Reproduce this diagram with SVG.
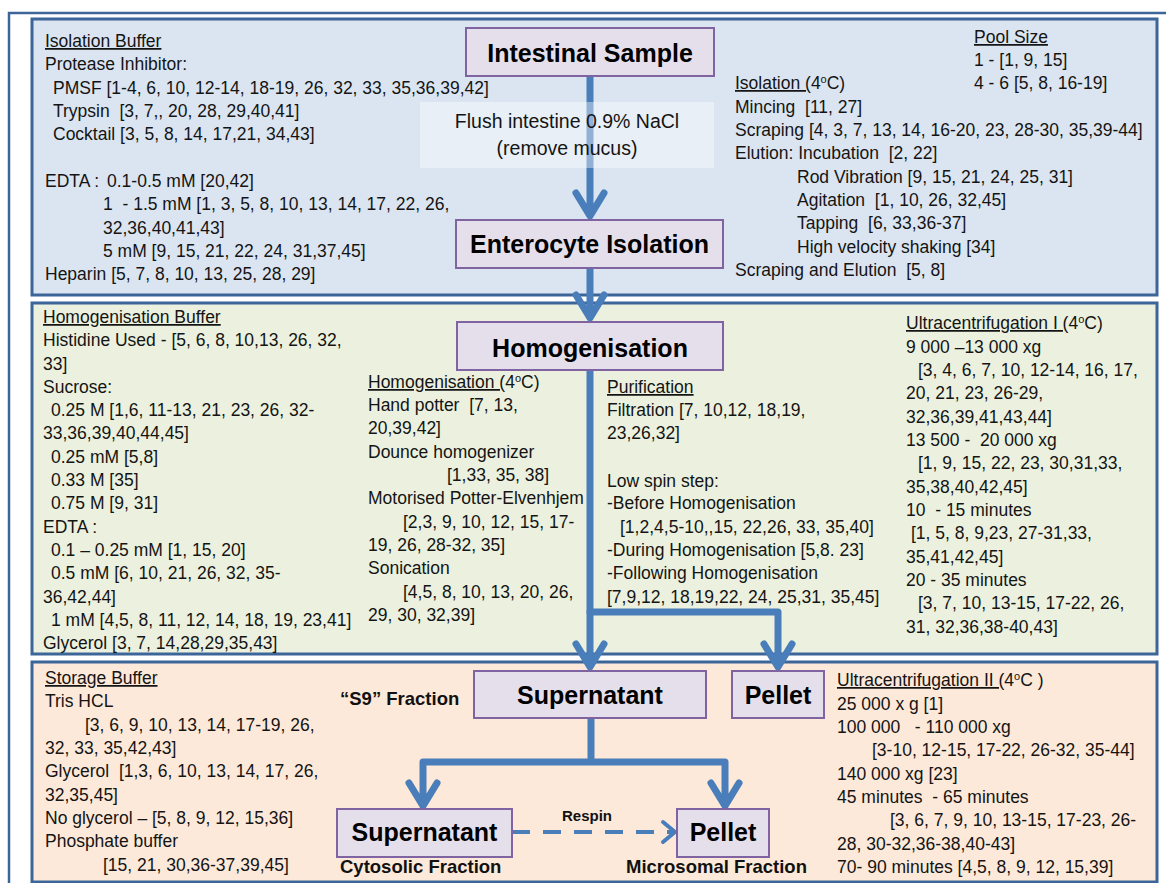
<svg xmlns="http://www.w3.org/2000/svg" width="1166" height="883" viewBox="0 0 1166 883">
<style>
.t{font-family:"Liberation Sans",Arial,sans-serif;font-size:17.5px;fill:#141414;white-space:pre}
.u{text-decoration:underline}
.sup{font-size:11px}
.lbl{font-family:"Liberation Sans",Arial,sans-serif;font-weight:bold;font-size:25px;fill:#000;text-anchor:middle}
.sm{font-family:"Liberation Sans",Arial,sans-serif;font-weight:bold;font-size:18.5px;fill:#111}
.panel{stroke:#3c659a;stroke-width:3}
.node{fill:#e5dfec;stroke:#8064a2;stroke-width:2}
.arr{fill:none;stroke:#4a7ebb;stroke-width:7;stroke-linecap:round;stroke-linejoin:round}
.dash{fill:none;stroke:#4a7ebb;stroke-width:4}
</style>
<rect x="9" y="13" width="1180" height="890" fill="none" stroke="#3c659a" stroke-width="2.5"/>
<g id="panels">
<rect class="panel" x="32" y="19" width="1125" height="276" fill="#dbe5f1"/>
<rect class="panel" x="32" y="303" width="1125" height="351" fill="#ebf1de"/>
<rect class="panel" x="32" y="662" width="1125" height="220" fill="#fde9d9"/>
</g>
<g id="isolation-buffer" class="t">
<text x="45" y="47"><tspan class="u">Isolation Buffer</tspan></text>
<text x="45" y="70">Protease Inhibitor:</text>
<text x="53" y="94">PMSF [1-4, 6, 10, 12-14, 18-19, 26, 32, 33, 35,36,39,42]</text>
<text x="53" y="117" xml:space="preserve">Trypsin  [3, 7,, 20, 28, 29,40,41]</text>
<text x="53" y="140">Cocktail [3, 5, 8, 14, 17,21, 34,43]</text>
<text x="45" y="187">EDTA :</text>
<text x="107" y="187">0.1-0.5 mM [20,42]</text>
<text x="103" y="210" xml:space="preserve">1  - 1.5 mM [1, 3, 5, 8, 10, 13, 14, 17, 22, 26,</text>
<text x="103" y="234">32,36,40,41,43]</text>
<text x="103" y="257">5 mM [9, 15, 21, 22, 24, 31,37,45]</text>
<text x="45" y="280">Heparin [5, 7, 8, 10, 13, 25, 28, 29]</text>
</g>
<g id="isolation-methods" class="t">
<text x="974" y="43"><tspan class="u">Pool Size</tspan></text>
<text x="974" y="66">1 - [1, 9, 15]</text>
<text x="974" y="89">4 - 6 [5, 8, 16-19]</text>
<text x="735" y="89"><tspan class="u">Isolation (</tspan>4<tspan class="sup" dy="-6">o</tspan><tspan dy="6">C)</tspan></text>
<text x="735" y="113" xml:space="preserve">Mincing  [11, 27]</text>
<text x="735" y="136">Scraping [4, 3, 7, 13, 14, 16-20, 23, 28-30, 35,39-44]</text>
<text x="735" y="159" xml:space="preserve">Elution: Incubation  [2, 22]</text>
<text x="797" y="183">Rod Vibration [9, 15, 21, 24, 25, 31]</text>
<text x="797" y="206" xml:space="preserve">Agitation  [1, 10, 26, 32,45]</text>
<text x="797" y="229" xml:space="preserve">Tapping  [6, 33,36-37]</text>
<text x="797" y="253">High velocity shaking [34]</text>
<text x="735" y="276" xml:space="preserve">Scraping and Elution  [5, 8]</text>
</g>
<g id="homogenisation-buffer" class="t">
<text x="43" y="323"><tspan class="u">Homogenisation Buffer</tspan></text>
<text x="43" y="346">Histidine Used - [5, 6, 8, 10,13, 26, 32,</text>
<text x="43" y="370">33]</text>
<text x="43" y="393">Sucrose:</text>
<text x="51" y="416">0.25 M [1,6, 11-13, 21, 23, 26, 32-</text>
<text x="43" y="439">33,36,39,40,44,45]</text>
<text x="51" y="463">0.25 mM [5,8]</text>
<text x="51" y="486">0.33 M [35]</text>
<text x="51" y="509">0.75 M [9, 31]</text>
<text x="43" y="533">EDTA :</text>
<text x="51" y="556">0.1 – 0.25 mM [1, 15, 20]</text>
<text x="51" y="579">0.5 mM [6, 10, 21, 26, 32, 35-</text>
<text x="43" y="603">36,42,44]</text>
<text x="51" y="626">1 mM [4,5, 8, 11, 12, 14, 18, 19, 23,41]</text>
<text x="43" y="649">Glycerol [3, 7, 14,28,29,35,43]</text>
</g>
<g id="homogenisation-methods" class="t">
<text x="368" y="388"><tspan class="u">Homogenisation (</tspan>4<tspan class="sup" dy="-6">o</tspan><tspan dy="6">C)</tspan></text>
<text x="368" y="411" xml:space="preserve">Hand potter  [7, 13,</text>
<text x="368" y="434">20,39,42]</text>
<text x="368" y="458">Dounce homogenizer</text>
<text x="447" y="481">[1,33, 35, 38]</text>
<text x="368" y="504">Motorised Potter-Elvenhjem</text>
<text x="403" y="528">[2,3, 9, 10, 12, 15, 17-</text>
<text x="368" y="551">19, 26, 28-32, 35]</text>
<text x="368" y="574">Sonication</text>
<text x="403" y="598">[4,5, 8, 10, 13, 20, 26,</text>
<text x="368" y="621">29, 30, 32,39]</text>
</g>
<g id="purification" class="t">
<text x="607" y="393"><tspan class="u">Purification</tspan></text>
<text x="607" y="416">Filtration [7, 10,12, 18,19,</text>
<text x="607" y="439">23,26,32]</text>
<text x="607" y="487">Low spin step:</text>
<text x="607" y="509">-Before Homogenisation</text>
<text x="620" y="533">[1,2,4,5-10,,15, 22,26, 33, 35,40]</text>
<text x="607" y="556">-During Homogenisation [5,8. 23]</text>
<text x="607" y="579">-Following Homogenisation</text>
<text x="607" y="603">[7,9,12, 18,19,22, 24, 25,31, 35,45]</text>
</g>
<g id="ultracentrifugation-1" class="t">
<text x="906" y="329"><tspan class="u">Ultracentrifugation I (</tspan>4<tspan class="sup" dy="-6">o</tspan><tspan dy="6">C)</tspan></text>
<text x="906" y="353">9 000 –13 000 xg</text>
<text x="918" y="376">[3, 4, 6, 7, 10, 12-14, 16, 17,</text>
<text x="906" y="399">20, 21, 23, 26-29,</text>
<text x="906" y="423">32,36,39,41,43,44]</text>
<text x="906" y="446" xml:space="preserve">13 500 -  20 000 xg</text>
<text x="918" y="469">[1, 9, 15, 22, 23, 30,31,33,</text>
<text x="906" y="493">35,38,40,42,45]</text>
<text x="906" y="516" xml:space="preserve">10  - 15 minutes</text>
<text x="911" y="539">[1, 5, 8, 9,23, 27-31,33,</text>
<text x="906" y="563">35,41,42,45]</text>
<text x="906" y="586">20 - 35 minutes</text>
<text x="918" y="609">[3, 7, 10, 13-15, 17-22, 26,</text>
<text x="906" y="633">31, 32,36,38-40,43]</text>
</g>
<g id="storage-buffer" class="t">
<text x="45" y="684"><tspan class="u">Storage Buffer</tspan></text>
<text x="45" y="707">Tris HCL</text>
<text x="85" y="731">[3, 6, 9, 10, 13, 14, 17-19, 26,</text>
<text x="45" y="754">32, 33, 35,42,43]</text>
<text x="45" y="777" xml:space="preserve">Glycerol  [1,3, 6, 10, 13, 14, 17, 26,</text>
<text x="45" y="801">32,35,45]</text>
<text x="45" y="824">No glycerol – [5, 8, 9, 12, 15,36]</text>
<text x="45" y="847">Phosphate buffer</text>
<text x="103" y="871">[15, 21, 30,36-37,39,45]</text>
</g>
<g id="ultracentrifugation-2" class="t">
<text x="837" y="686"><tspan class="u">Ultracentrifugation II (</tspan>4<tspan class="sup" dy="-6">o</tspan><tspan dy="6">C )</tspan></text>
<text x="837" y="710">25 000 x g [1]</text>
<text x="837" y="733" xml:space="preserve">100 000   - 110 000 xg</text>
<text x="872" y="756">[3-10, 12-15, 17-22, 26-32, 35-44]</text>
<text x="837" y="780">140 000 xg [23]</text>
<text x="837" y="803" xml:space="preserve">45 minutes  - 65 minutes</text>
<text x="890" y="826">[3, 6, 7, 9, 10, 13-15, 17-23, 26-</text>
<text x="837" y="850">28, 30-32,36-38,40-43]</text>
<text x="837" y="873">70- 90 minutes [4,5, 8, 9, 12, 15,39]</text>
</g>
<g id="connectors">
<path class="arr" d="M590,76 V213 M576,193 L590,216 L604,193"/>
<path class="arr" d="M590,268 V316 M576,295 L590,318 L604,295"/>
<path class="arr" d="M590,370 V665 M576,644 L590,667 L604,644"/>
<path class="arr" d="M590,612 H778 V665 M764,644 L778,667 L792,644"/>
<path class="arr" d="M591,718 V762 M423,804 V762 H725 V804 M409,783 L423,806 L437,783 M711,783 L725,806 L739,783"/>
<path class="dash" d="M512,832 H672" stroke-dasharray="18 13"/>
<path class="dash" d="M663,822 L675,832 L663,842" stroke-linejoin="round" stroke-linecap="round"/>
</g>
<g id="flush-label">
<rect x="420" y="102" width="294" height="66" fill="#ffffff" fill-opacity="0.4"/>
<text class="t" x="567" y="128" text-anchor="middle" style="font-size:19.5px">Flush intestine 0.9% NaCl</text>
<text class="t" x="567" y="155" text-anchor="middle" style="font-size:19.5px">(remove mucus)</text>
</g>
<g id="node-intestinal-sample">
<rect class="node" x="466" y="28" width="248" height="48"/>
<text class="lbl" x="590" y="62">Intestinal Sample</text>
</g>
<g id="node-enterocyte-isolation">
<rect class="node" x="456" y="220" width="267" height="48"/>
<text class="lbl" x="589.5" y="253">Enterocyte Isolation</text>
</g>
<g id="node-homogenisation">
<rect class="node" x="457" y="322" width="266" height="48"/>
<text class="lbl" x="590" y="357">Homogenisation</text>
</g>
<g id="node-supernatant-s9">
<rect class="node" x="474" y="671" width="232" height="47"/>
<text class="lbl" x="590" y="704">Supernatant</text>
</g>
<g id="node-pellet-1">
<rect class="node" x="732" y="671" width="92" height="47"/>
<text class="lbl" x="778" y="704">Pellet</text>
</g>
<g id="node-supernatant-cytosolic">
<rect class="node" x="337" y="809" width="175" height="48"/>
<text class="lbl" x="424.5" y="841">Supernatant</text>
</g>
<g id="node-pellet-microsomal">
<rect class="node" x="677" y="809" width="92" height="48"/>
<text class="lbl" x="723" y="841">Pellet</text>
</g>
<g id="fraction-labels">
<text class="sm" x="340" y="705">“S9” Fraction</text>
<text class="sm" x="587" y="821" text-anchor="middle" style="font-size:15px">Respin</text>
<text class="sm" x="340" y="873">Cytosolic Fraction</text>
<text class="sm" x="626" y="873">Microsomal Fraction</text>
</g>
</svg>
